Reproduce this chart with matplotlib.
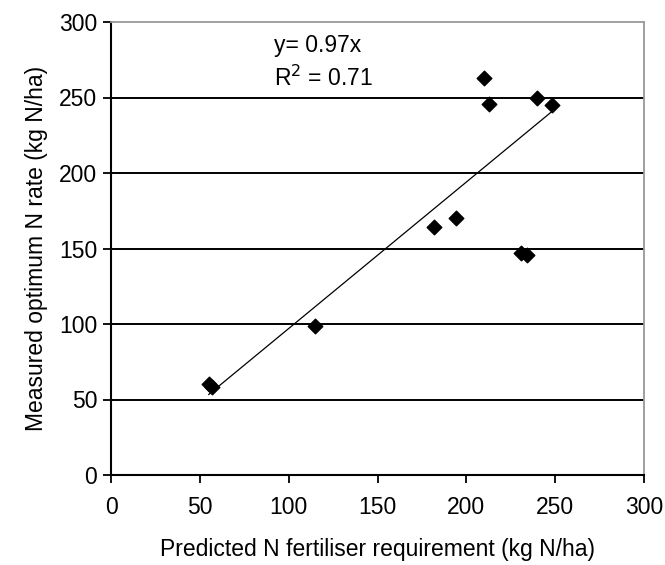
import matplotlib
matplotlib.use("Agg")
import matplotlib.pyplot as plt
import numpy as np

plt.rcParams["font.family"] = ["Liberation Sans", "DejaVu Sans"]

# Data
predicted = [55, 57, 115, 182, 194, 210, 213, 231, 234, 240, 248]
measured = [60, 58, 99, 164, 170, 263, 246, 147, 146, 250, 245]
slope = 0.97
trend_x = [55, 248]
y_ticks = [0, 50, 100, 150, 200, 250, 300]
x_ticks = [0, 50, 100, 150, 200, 250, 300]

fig = plt.figure(figsize=(6.65, 5.65), dpi=100)
ax = fig.add_axes([111 / 665, 90 / 565, 533 / 665, 453 / 565])

for yv in y_ticks[1:-1]:
    ax.axhline(yv, color="black", lw=1.4, zorder=1)

tx = np.array(trend_x)
ax.plot(tx, slope * tx, color="black", lw=0.9, zorder=2)
ax.scatter(predicted, measured, marker="D", s=55, color="black", zorder=3)

ax.set_xlim(0, 300)
ax.set_ylim(0, 300)
ax.set_xticks(x_ticks)
ax.set_yticks(y_ticks)
ax.tick_params(direction="out", length=6, width=1.3, labelsize=16.5)
ax.tick_params(axis="x", pad=9)
ax.tick_params(axis="y", pad=4)

for side in ["left", "bottom"]:
    ax.spines[side].set_color("black")
    ax.spines[side].set_linewidth(1.5)
for side in ["right", "top"]:
    ax.spines[side].set_color("#999999")
    ax.spines[side].set_linewidth(1.3)

ax.text(92, 284.5, "y= 0.97x", fontsize=16.5, va="center", ha="left")
ax.text(92, 263, "R$^2$ = 0.71", fontsize=16.5, va="center", ha="left")

ax.set_xlabel("Predicted N fertiliser requirement (kg N/ha)", fontsize=16.5, labelpad=14)
ax.set_ylabel("Measured optimum N rate (kg N/ha)", fontsize=16.5, labelpad=8)

fig.savefig("out.png", dpi=100)
